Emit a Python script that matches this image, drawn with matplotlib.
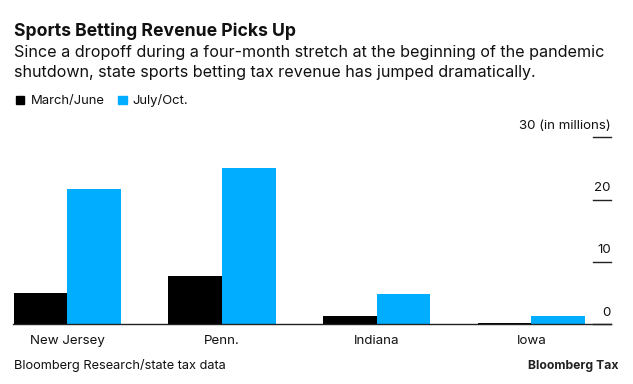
import matplotlib

matplotlib.use("Agg")
import matplotlib.pyplot as plt  # noqa: E402
import numpy as np  # noqa: E402
from matplotlib.patches import Rectangle  # noqa: E402

plt.rcParams["font.family"] = ["Inter", "Liberation Sans", "DejaVu Sans"]

states = ["New Jersey", "Penn.", "Indiana", "Iowa"]
march_june = [5.0, 7.7, 1.3, 0.2]
july_oct = [21.7, 25.1, 4.8, 1.25]
y_ticks = [0, 10, 20, 30]
y_labels = ["0", "10", "20", "30 (in millions)"]

BLACK = "#000000"
BLUE = "#00adff"
W, H = 633, 384

fig = plt.figure(figsize=(W / 100, H / 100), dpi=100)
ax = fig.add_axes([13.3 / W, 1 - 324 / H, (610.7 - 13.3) / W, (324 - 137.3) / H])

x = np.arange(len(states))
bw = 0.347
ax.bar(x - bw / 2, march_june, width=bw, color=BLACK, zorder=2)
ax.bar(x + bw / 2, july_oct, width=bw, color=BLUE, zorder=2)

ax.set_xlim(-0.349, 3.513)
ax.set_ylim(0, 30)
for s in ("top", "left", "right"):
    ax.spines[s].set_visible(False)
ax.spines["bottom"].set_color("#222222")
ax.spines["bottom"].set_linewidth(1.0)
ax.spines["bottom"].set_zorder(3)

ax.set_xticks(x)
ax.set_xticklabels(states, fontsize=9.6, color="#111111")
ax.tick_params(axis="x", length=0, pad=8)
ax.set_yticks([])

# right-side tick marks with labels sitting above them
for v, lab in zip(y_ticks, y_labels):
    ax.plot([0.971, 1.0], [v, v], transform=ax.get_yaxis_transform(),
            color="#222222", lw=1.0, clip_on=False, zorder=3)
    ax.annotate(lab, (1.0, v), xycoords=("axes fraction", "data"),
                xytext=(0, 6), textcoords="offset points",
                ha="right", va="baseline", fontsize=9.6, color="#111111")

fig.text(14 / W, 1 - 36 / H, "Sports Betting Revenue Picks Up",
         fontsize=12.7, fontweight="bold", color="#111111", va="baseline")
fig.text(14 / W, 1 - 56.7 / H, "Since a dropoff during a four-month stretch at the beginning of the pandemic",
         fontsize=11.6, color="#111111", va="baseline")
fig.text(14 / W, 1 - 77 / H, "shutdown, state sports betting tax revenue has jumped dramatically.",
         fontsize=11.6, color="#111111", va="baseline")

# legend
for x0, col, lab, tx in [(15.7, BLACK, "March/June", 31), (118.3, BLUE, "July/Oct.", 132.7)]:
    fig.patches.append(Rectangle((x0 / W, 1 - 104.3 / H), 8.5 / W, 8.5 / H,
                                 transform=fig.transFigure, color=col))
    fig.text(tx / W, 1 - 104.3 / H, lab, fontsize=9.4, color="#111111", va="baseline")

fig.text(14 / W, 1 - 369.3 / H, "Bloomberg Research/state tax data",
         fontsize=9.2, color="#111111", va="baseline")
fig.text(618 / W, 1 - 369.3 / H, "Bloomberg Tax",
         fontsize=8.8, fontweight="bold", color="#222222", va="baseline", ha="right")

fig.savefig("out.png", dpi=100)
